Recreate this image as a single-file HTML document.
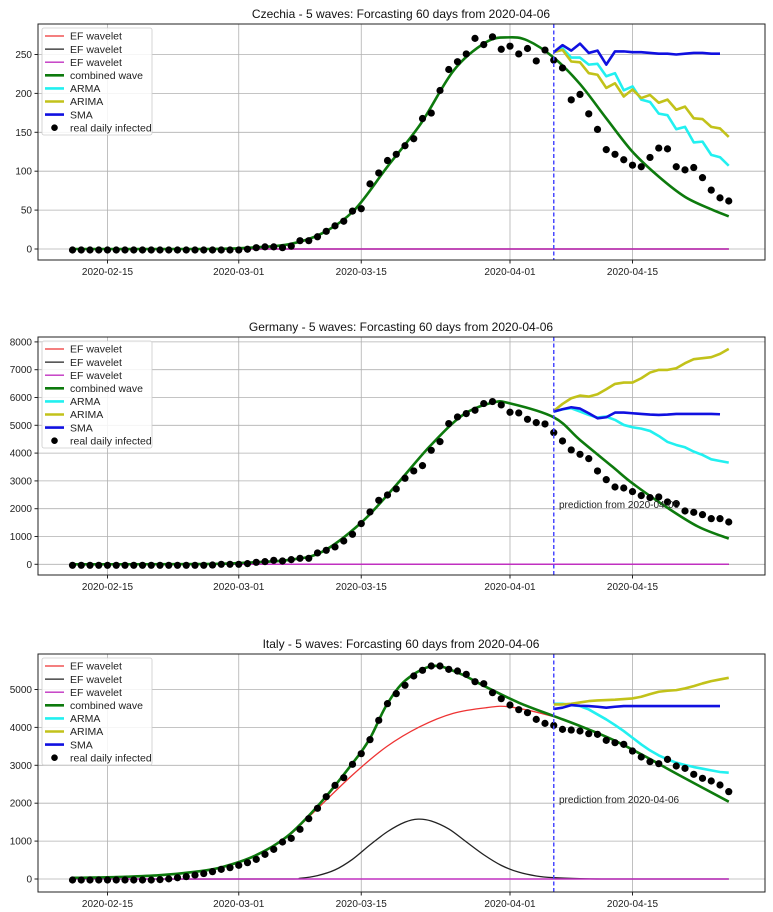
<!DOCTYPE html>
<html><head><meta charset="utf-8">
<style>
html,body{margin:0;padding:0;background:#fff;}
svg{display:block;font-family:"Liberation Sans","DejaVu Sans",sans-serif;}
</style></head>
<body>
<svg id="chart" width="773" height="912" viewBox="0 0 773 912" xmlns="http://www.w3.org/2000/svg"></svg>
<script>
// ---- shared axis data ----
const tickDays = [4, 19, 33, 50, 64];
const tickLabels = ["2020-02-15", "2020-03-01", "2020-03-15", "2020-04-01", "2020-04-15"];
const forecastStartDay = 55;

// ---- Czechia ----
const czTitle = "Czechia - 5 waves: Forcasting 60 days from 2020-04-06";
const czYTicks = [0, 50, 100, 150, 200, 250];
const czReal = [0,0,0,0,0,0,0,0,0,0,0,0,0,0,0,0,0,
  0,0,0,1,3,4,4,3,5,12,12,17,24,31,37,50,53,85,99,115,123,134,143,169,176,205,232,242,252,272,264,274,258,262,252,
  259,243,257,244,234,193,200,175,155,129,123,116,109,107,119,131,130,107,103,106,93,77,67,63];
const czGreenDays = [0,15,20,24.7,28.5,32.2,36,39.8,43.6,47.3,49.8,52,55,58,61,64,67,70,73,75];
const czGreenVals = [0,0,1.5,6,20,50,106,161,230,266,272,268,246,212,168,125,93,67,51,42];
const czSMA = [253,262,255,264,252,255,237,254,254,253,253,252,251,251,250,251,252,252,251,251];
const czARMA = [253,258,246,246,237,238,222,226,204,209,192,189,174,172,154,157,137,138,121,118,107];
const czARIMA = [253,256,241,240,226,224,207,213,196,205,194,198,188,192,179,183,168,167,157,155,144];

// ---- Germany ----
const deTitle = "Germany - 5 waves: Forcasting 60 days from 2020-04-06";
const deYTicks = [0,1000,2000,3000,4000,5000,6000,7000,8000];
const deReal = [0,0,0,0,0,0,0,0,0,0,0,0,0,0,0,0,10,
  36,36,36,60,108,132,180,156,204,252,252,444,540,660,875,1115,1499,1918,2338,2530,2746,3130,3394,3586,4137,4449,5097,5337,5457,5577,5817,5889,5769,5505,5481,
  5252,5132,5084,4772,4472,4149,3993,3837,3393,3081,2817,2781,2650,2506,2434,2458,2278,2218,1954,1906,1822,1678,1678,1558];
const deGreenDays = [0,15,20,24.7,28.5,33,37,40.8,44.6,48,50,55,58,61.7,64,67.8,71.5,75];
const deGreenVals = [0,10,60,156,444,1499,2854,4233,5370,5817,5790,5288,4472,3513,2913,2074,1355,924];
const deSMA = [5493,5577,5649,5601,5433,5252,5290,5457,5457,5433,5409,5385,5373,5385,5409,5409,5409,5409,5409,5397];
const deARMA = [5493,5577,5613,5493,5373,5277,5313,5193,5013,4929,4881,4797,4617,4401,4293,4209,4053,3933,3777,3717,3657];
const deARIMA = [5520,5769,5973,6069,6033,6117,6297,6489,6537,6537,6693,6897,6993,6993,7053,7233,7377,7413,7449,7569,7749];

// ---- Italy ----
const itTitle = "Italy - 5 waves: Forcasting 60 days from 2020-04-06";
const itYTicks = [0,1000,2000,3000,4000,5000];
const itReal = [0,0,0,0,0,0,0,0,0,0,10,30,60,90,130,170,220,
  281,325,387,457,545,677,809,1003,1099,1337,1618,1891,2198,2497,2700,3052,3333,3703,4213,4653,4917,5137,5383,5532,5646,5646,5558,5514,5426,5233,5180,4943,4784,4617,4494,
  4414,4238,4133,4080,3974,3957,3931,3861,3843,3685,3623,3579,3403,3245,3122,3069,3183,3008,2946,2788,2683,2612,2507,2331];
const itGreenDays = [0,5,10,14,17,20.8,24.5,28.3,32,34,35.9,38.1,41.2,44.2,47.2,51,55,58,61.8,65.5,69.3,75];
const itGreenVals = [30,50,100,190,308,607,1117,1997,3052,3712,4591,5251,5620,5426,5075,4653,4300,4037,3668,3228,2744,2040];
const itRedDays = [0,5,10,14,17,20.8,24.5,27.2,32,35.9,39.7,43.5,47.3,50,55,58,61.8,65.5,69.3,75];
const itRedVals = [30,50,100,190,308,600,1100,1680,2744,3492,4019,4371,4520,4540,4283,4030,3660,3220,2738,2035];
const itBlackDays = [0,24,26,28,30,32,34,36,38,39.5,41,43,45,47,49,51,53,55,58,62,75];
const itBlackVals = [0,0,20,90,240,520,900,1250,1500,1580,1530,1320,980,640,360,180,80,35,10,0,0];
const itSMA = [4485,4520,4589,4571,4562,4545,4520,4545,4562,4562,4562,4562,4562,4562,4562,4562,4562,4562,4562,4562];
const itARMA = [4624,4624,4589,4562,4474,4342,4210,4061,3903,3727,3551,3393,3261,3157,3069,3007,2954,2911,2867,2823,2805];
const itARIMA = [4606,4606,4624,4659,4694,4712,4721,4730,4747,4765,4809,4879,4940,4967,4984,5028,5090,5160,5221,5265,5309];

const NS = "http://www.w3.org/2000/svg";
const svg = document.getElementById("chart");
function mk(tag, attrs, parent) {
  const e = document.createElementNS(NS, tag);
  for (const k in attrs) e.setAttribute(k, attrs[k]);
  (parent || svg).appendChild(e);
  return e;
}
function smoothPath(pts) {
  let d = "M" + pts[0][0].toFixed(2) + "," + pts[0][1].toFixed(2);
  for (let i = 0; i < pts.length - 1; i++) {
    const p0 = pts[i - 1] || pts[i], p1 = pts[i], p2 = pts[i + 1], p3 = pts[i + 2] || p2;
    const c1x = p1[0] + (p2[0] - p0[0]) / 6, c1y = p1[1] + (p2[1] - p0[1]) / 6;
    const c2x = p2[0] - (p3[0] - p1[0]) / 6, c2y = p2[1] - (p3[1] - p1[1]) / 6;
    d += " C" + c1x.toFixed(2) + "," + c1y.toFixed(2) + " " + c2x.toFixed(2) + "," + c2y.toFixed(2) + " " + p2[0].toFixed(2) + "," + p2[1].toFixed(2);
  }
  return d;
}
function polyPath(pts) {
  return pts.map((p, i) => (i ? "L" : "M") + p[0].toFixed(2) + "," + p[1].toFixed(2)).join(" ");
}

const L = 38, R = 765;
const xScale = t => 510 + (t - 50) * 8.75;

function panel(cfg) {
  const g = mk("g", {});
  
  
  const y = v => cfg.y0 - v * cfg.k;
  const title = mk("text", {x: 401, y: cfg.top - 6, "text-anchor": "middle", "font-size": 12, fill: "#111"}, g);
  title.textContent = cfg.title;
  
  
  const grid = mk("g", {stroke: "#b0b0b0", "stroke-width": 0.8}, g);
  
  
  tickDays.forEach(t => mk("line", {x1: xScale(t), x2: xScale(t), y1: cfg.top, y2: cfg.bottom}, grid));
  cfg.yTicks.forEach(v => mk("line", {x1: L, x2: R, y1: y(v), y2: y(v)}, grid));
  const xt = mk("g", {"font-size": 10, fill: "#222", "text-anchor": "middle"}, g);
  
  
  tickDays.forEach((t, i) => {
    mk("line", {x1: xScale(t), x2: xScale(t), y1: cfg.bottom, y2: cfg.bottom + 3.5, stroke: "#222"}, xt);
    const tx = mk("text", {x: xScale(t), y: cfg.bottom + 15}, xt);
    tx.textContent = tickLabels[i];
  });
  const yt = mk("g", {"font-size": 10, fill: "#222", "text-anchor": "end"}, g);
  
  
  cfg.yTicks.forEach(v => {
    mk("line", {x1: L - 3.5, x2: L, y1: y(v), y2: y(v), stroke: "#222"}, yt);
    const tx = mk("text", {x: L - 6, y: y(v) + 3.5}, yt);
    tx.textContent = v;
  });
  const clipId = "clip-" + cfg.name;
  const cp = mk("clipPath", {id: clipId}, g);
  mk("rect", {x: L, y: cfg.top, width: R - L, height: cfg.bottom - cfg.top}, cp);
  const plot = mk("g", {"clip-path": "url(#" + clipId + ")", fill: "none"}, g);
  const redPts = cfg.redDays ? cfg.redDays.map((t, i) => [xScale(t), y(cfg.redVals[i])]) : [[xScale(0), y(0)], [xScale(75), y(0)]];
  const red = mk("path", {d: cfg.redDays ? smoothPath(redPts) : polyPath(redPts), stroke: "#ee3333", "stroke-width": 1.3}, plot);
  
  
  const blkPts = cfg.blackDays ? cfg.blackDays.map((t, i) => [xScale(t), y(cfg.blackVals[i])]) : [[xScale(0), y(0)], [xScale(75), y(0)]];
  const blk = mk("path", {d: cfg.blackDays ? smoothPath(blkPts) : polyPath(blkPts), stroke: "#222", "stroke-width": 1.3}, plot);
  
  
  const mag = mk("path", {d: polyPath([[xScale(0), y(0)], [xScale(75), y(0)]]), stroke: "#c030c0", "stroke-width": 1.5}, plot);
  
  
  const gp = cfg.greenDays.map((t, i) => [xScale(t), y(cfg.greenVals[i])]);
  const green = mk("path", {d: smoothPath(gp), stroke: "#0d7a0d", "stroke-width": 2.6}, plot);
  
  
  const fc = (arr, color, nm) => {
    const pts = arr.map((v, i) => [xScale(forecastStartDay + i), y(v)]);
    const p = mk("path", {d: polyPath(pts), stroke: color, "stroke-width": 2.6, "stroke-linejoin": "round"}, plot);
    
    
  };
  fc(cfg.arma, "#22f0f0", "arma-line");
  fc(cfg.arima, "#c2c21a", "arima-line");
  fc(cfg.sma, "#1010e0", "sma-line");
  const dots = mk("g", {fill: "#000"}, plot);
  
  
  cfg.real.forEach((v, i) => {
    const c = mk("circle", {cx: xScale(i), cy: y(v) + 1, r: 3.6}, dots);
    
    
  });
  const vl = mk("line", {x1: xScale(forecastStartDay), x2: xScale(forecastStartDay), y1: cfg.top, y2: cfg.bottom, stroke: "#4a4aff", "stroke-width": 1.5, "stroke-dasharray": "4,2.5"}, g);
  
  
  if (cfg.predY) {
    const pt = mk("text", {x: 559, y: cfg.predY, "font-size": 10, fill: "#222"}, g);
    pt.textContent = "prediction from 2020-04-06";
    
    
  }
  const fr = mk("rect", {x: L, y: cfg.top, width: R - L, height: cfg.bottom - cfg.top, fill: "none", stroke: "#222", "stroke-width": 1}, g);
  
  
  const lg = mk("g", {"font-size": 10.5, fill: "#222"}, g);
  
  
  const lt = cfg.top + 4;
  mk("rect", {x: 42, y: lt, width: 110, height: 107, rx: 2, fill: "#fff", "fill-opacity": 0.85, stroke: "#ccc", "stroke-width": 0.8}, lg);
  const items = [["EF wavelet", "#ee3333", 1.3], ["EF wavelet", "#222", 1.3], ["EF wavelet", "#c030c0", 1.3],
    ["combined wave", "#0d7a0d", 2.6], ["ARMA", "#22f0f0", 2.6], ["ARIMA", "#c2c21a", 2.6], ["SMA", "#1010e0", 2.6], ["real daily infected", null, 0]];
  items.forEach((it, i) => {
    const ry = lt + 8 + i * 13.1;
    const e = mk("g", {}, lg);
    
    
    if (it[1]) mk("line", {x1: 45, x2: 64, y1: ry, y2: ry, stroke: it[1], "stroke-width": it[2]}, e);
    else mk("circle", {cx: 54.5, cy: ry, r: 3.3, fill: "#000"}, e);
    const tx = mk("text", {x: 70, y: ry + 3.7}, e);
    tx.textContent = it[0];
  });
}

panel({name: "czechia", title: czTitle, top: 24, bottom: 260, y0: 249, k: 0.778, yTicks: czYTicks,
  real: czReal, greenDays: czGreenDays, greenVals: czGreenVals, sma: czSMA, arma: czARMA, arima: czARIMA});
panel({name: "germany", title: deTitle, top: 337, bottom: 575, y0: 564.3, k: 0.0278, yTicks: deYTicks,
  real: deReal, greenDays: deGreenDays, greenVals: deGreenVals, sma: deSMA, arma: deARMA, arima: deARIMA, predY: 508});
panel({name: "italy", title: itTitle, top: 654, bottom: 892, y0: 879, k: 0.0379, yTicks: itYTicks,
  real: itReal, greenDays: itGreenDays, greenVals: itGreenVals, redDays: itRedDays, redVals: itRedVals,
  blackDays: itBlackDays, blackVals: itBlackVals, sma: itSMA, arma: itARMA, arima: itARIMA, predY: 803});
</script>
</body></html>
